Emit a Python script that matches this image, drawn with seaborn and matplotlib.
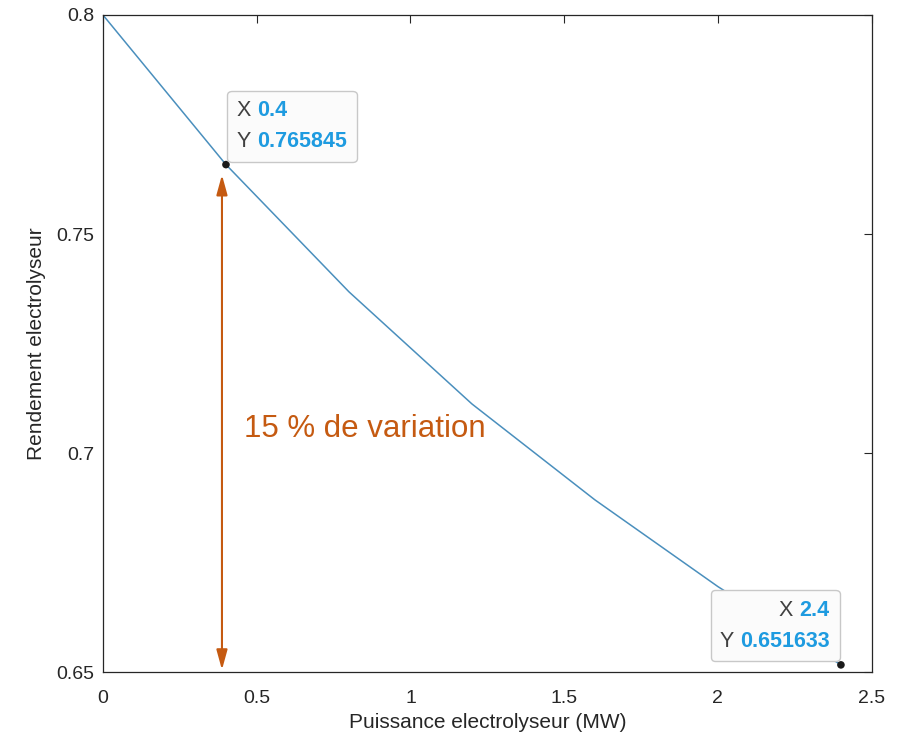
import matplotlib
matplotlib.use("Agg")
import matplotlib.pyplot as plt
import seaborn as sns
import pandas as pd
from matplotlib.offsetbox import TextArea, HPacker, VPacker, AnnotationBbox

# curve (MATLAB export)
puissance = [0.0, 0.4, 0.8, 1.2, 1.6, 2.0, 2.4]
rendement = [0.8, 0.765845, 0.7368, 0.7112, 0.6893, 0.6695, 0.651633]

tip_x = [0.4, 2.4]
tip_y = [0.765845, 0.651633]
tip_labels = [("0.4", "0.765845"), ("2.4", "0.651633")]

arrow_x = 0.387
arrow_y = (0.7635, 0.6505)
note = "15 % de variation"

x_ticks = [0, 0.5, 1, 1.5, 2, 2.5]
x_ticklabels = ["0", "0.5", "1", "1.5", "2", "2.5"]
y_ticks = [0.65, 0.7, 0.75, 0.8]
y_ticklabels = ["0.65", "0.7", "0.75", "0.8"]

sns.set_style("white")
plt.rcParams["font.family"] = ["Liberation Sans", "DejaVu Sans"]
plt.rcParams["xtick.direction"] = "in"
plt.rcParams["ytick.direction"] = "in"

df = pd.DataFrame({"x": puissance, "y": rendement})
tips = pd.DataFrame({"x": tip_x, "y": tip_y})

fig = plt.figure(figsize=(9.08, 7.42), dpi=100)
ax = fig.add_axes([0.1134, 0.0943, 0.8466, 0.8855])

sns.lineplot(data=df, x="x", y="y", ax=ax, color="#4a8fbd", linewidth=1.1)
sns.scatterplot(data=tips, x="x", y="y", ax=ax, color="#1a1a1a", s=30,
                edgecolor="none", zorder=5)

ax.set_xlim(0, 2.5)
ax.set_ylim(0.65, 0.8)
ax.set_xticks(x_ticks)
ax.set_xticklabels(x_ticklabels)
ax.set_yticks(y_ticks)
ax.set_yticklabels(y_ticklabels)
ax.tick_params(axis="both", labelsize=14, colors="#262626", length=6, width=0.8,
               top=True, right=True)
ax.tick_params(axis="x", pad=13)
ax.tick_params(axis="y", pad=6)
for s in ax.spines.values():
    s.set_color("#262626")
    s.set_linewidth(0.9)

ax.set_xlabel("Puissance electrolyseur (MW)", fontsize=15, color="#262626", labelpad=4)
ax.set_ylabel("Rendement electrolyseur", fontsize=15, color="#262626", labelpad=8)

# variation arrow and note
ax.annotate("", xy=(arrow_x, arrow_y[0]), xytext=(arrow_x, arrow_y[1]),
            arrowprops=dict(arrowstyle="<|-|>,head_length=1.2,head_width=0.33",
                            color="#c55a11", lw=1.5, shrinkA=0, shrinkB=0))
ax.text(0.46, 0.7055, note, fontsize=22.5, color="#c55a11",
        va="center", ha="left")


def datatip(xv, yv, labels, align, box_align, offset):
    rows = []
    for letter, val in zip(("X", "Y"), labels):
        rows.append(HPacker(children=[
            TextArea(letter + " ", textprops=dict(color="#404040", fontsize=15.5)),
            TextArea(val, textprops=dict(color="#1e9be0", fontsize=15.5, fontweight="bold")),
        ], pad=0, sep=0))
    box = VPacker(children=rows, align=align, pad=7, sep=7)
    ab = AnnotationBbox(box, (xv, yv), xybox=offset, boxcoords="offset points",
                        box_alignment=box_align, pad=0, frameon=True,
                        bboxprops=dict(boxstyle="round,pad=0,rounding_size=0.3",
                                       fc="#fbfbfb", ec="#c8c8c8", lw=1.0),
                        zorder=6)
    ax.add_artist(ab)


datatip(tip_x[0], tip_y[0], tip_labels[0], "left", (0, 0), (1, 2))
datatip(tip_x[1], tip_y[1], tip_labels[1], "right", (1, 0), (-1, 2.5))

fig.savefig("out.png", dpi=100)
